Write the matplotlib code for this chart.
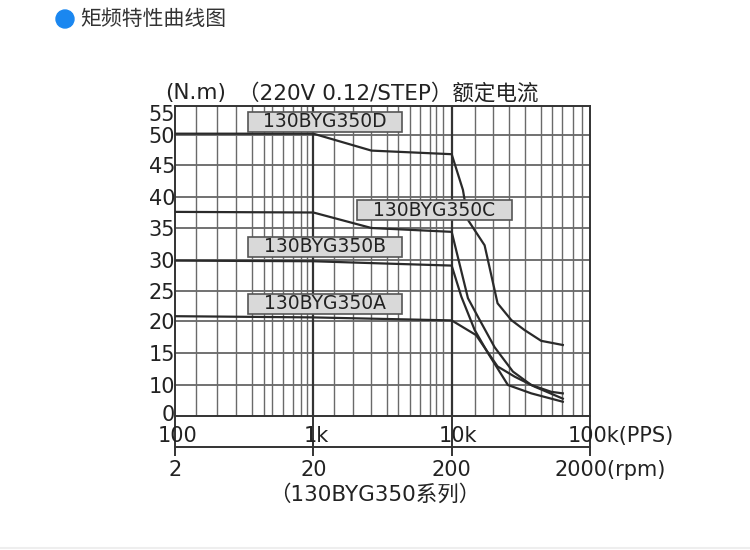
import numpy as np
import matplotlib.pyplot as plt
from matplotlib.patches import Rectangle, Ellipse
from matplotlib.lines import Line2D
from matplotlib.ticker import NullLocator
from matplotlib.transforms import ScaledTranslation

plt.rcParams['font.family'] = ['DejaVu Sans', 'Noto Sans CJK SC']

# ---- data ----
# torque (N.m) vs pulse rate (PPS)
pps_d = [100, 1000, 2630, 10000, 12065, 13115, 17300, 21470, 27000, 33550, 44380, 63600]
nm_d = [50.3, 50.3, 47.4, 46.8, 41.1, 36.3, 32.3, 22.95, 20.15, 18.6, 16.9, 16.25]

pps_c = [100, 1000, 2630, 10000, 13115, 15490, 20440, 27710, 37630, 52480, 63600]
nm_c = [37.6, 37.5, 35.0, 34.4, 23.8, 20.7, 15.9, 12.1, 10.0, 7.8, 7.3]

pps_b = [100, 1000, 2630, 10000, 11750, 14660, 18290, 25500, 37630, 63600]
nm_b = [29.9, 29.8, 29.5, 29.1, 24.05, 18.6, 15.0, 10.0, 7.3, 4.6]

pps_a = [100, 1000, 10000, 15000, 18800, 21470, 28560, 39850, 63600]
nm_a = [20.8, 20.6, 20.1, 17.8, 14.7, 12.9, 11.3, 9.45, 5.6]

series_names = ['130BYG350D', '130BYG350C', '130BYG350B', '130BYG350A']

y_ticks = [0, 10, 15, 20, 25, 30, 35, 40, 45, 50, 55]
h_grid = [10, 15, 20, 25, 30, 35, 40, 45, 50]
x_grid = [142, 201, 277, 361, 442, 505, 606, 717, 819, 905, 1000,
          1419, 1946, 2600, 3394, 4122, 5006, 5918, 6975, 7714, 8707, 10000,
          14700, 20000, 26000, 34000, 44300, 53000, 62500, 75000, 87500]
pps_ticks = [100, 1000, 10000, 100000]
pps_labels = ['100', '1k', '10k', '100k(PPS)']
rpm_ticks = [2, 20, 200, 2000]
rpm_labels = ['2', '20', '200', '2000(rpm)']

# the printed y axis is not evenly spaced: value -> height (px above the 0 line)
y_vals = [-50, 0, 10, 15, 20, 25, 30, 35, 40, 45, 50, 55, 56.2, 200]
y_pos = [-155, 0, 31, 63, 95, 125, 156, 188, 219, 251, 281, 303, 310, 1144]


def fwd(v):
    return np.interp(v, y_vals, y_pos)


def inv(p):
    return np.interp(p, y_pos, y_vals)


W, H = 750, 550
fig = plt.figure(figsize=(7.5, 5.5), dpi=100)
ax = fig.add_axes([175 / W, 134 / H, 415 / W, 310 / H])
ax.set_xscale('log')
ax.set_yscale('function', functions=(fwd, inv))
ax.set_xlim(100, 100000)
ax.set_ylim(0, 56.2)

# grid
for v in h_grid:
    ax.axhline(v, color='#4a4a4a', lw=1.1, zorder=1)
for v in x_grid:
    major = v in (1000, 10000)
    ax.axvline(v, color='#333333' if major else '#6a6a6a',
               lw=1.6 if major else 1.0, zorder=1)

for s in ax.spines.values():
    s.set_color('#333333')
    s.set_linewidth(1.4)

# curves
line_kw = dict(color='#2a2a2a', lw=1.6, zorder=3)
ax.plot(pps_d, nm_d, **line_kw)
ax.plot(pps_c, nm_c, **line_kw)
ax.plot(pps_b, nm_b, **line_kw)
ax.plot(pps_a, nm_a, **line_kw)

# y ticks
ax.set_yticks(y_ticks)
ax.set_yticklabels([str(v) for v in y_ticks])
ax.tick_params(axis='y', length=0, pad=0, labelsize=15, labelcolor='#222222')
# the "0" sits a little above the bottom line in the original
lab0 = ax.get_yticklabels()[0]
lab0.set_transform(lab0.get_transform() + ScaledTranslation(0, 3 / 100, fig.dpi_scale_trans))

# x ticks (labels drawn by hand, the tick passes through them)
ax.set_xticks(pps_ticks)
ax.set_xticklabels([])
ax.xaxis.set_minor_locator(NullLocator())
ax.tick_params(axis='x', direction='out', length=17, width=1.4, color='#333333')
offsets = [(3, 'center'), (3, 'center'), (6, 'center'), (-22, 'left')]
for v, lab, (dx, ha) in zip(pps_ticks, pps_labels, offsets):
    ax.annotate(lab, xy=(v, 0), xycoords=('data', 'axes fraction'),
                xytext=(dx, -20), textcoords='offset pixels',
                ha=ha, va='center', fontsize=15, color='#222222')

# rpm axis below
sec = ax.secondary_xaxis(-0.1, functions=(lambda x: x / 50.0, lambda r: r * 50.0))
sec.set_xticks(rpm_ticks)
sec.set_xticklabels([])
sec.xaxis.set_minor_locator(NullLocator())
sec.spines['bottom'].set_color('#333333')
sec.spines['bottom'].set_linewidth(1.4)
sec.tick_params(axis='x', direction='inout', length=13, width=1.4, color='#333333')
offsets = [(0, 'center'), (0, 'center'), (0, 'center'), (-35, 'left')]
for r, lab, (dx, ha) in zip(rpm_ticks, rpm_labels, offsets):
    ax.annotate(lab, xy=(r * 50, -0.1), xycoords=('data', 'axes fraction'),
                xytext=(dx, -23), textcoords='offset pixels',
                ha=ha, va='center', fontsize=15, color='#222222')

# series label boxes (axes fraction)
boxes = [(0.176, 0.916), (0.439, 0.632), (0.176, 0.513), (0.176, 0.329)]
for name, (bx, by) in zip(series_names, boxes):
    ax.add_patch(Rectangle((bx, by), 0.372, 0.065, transform=ax.transAxes,
                           facecolor='#d9d9d9', edgecolor='#555555', lw=1.2, zorder=4))
    ax.text(bx + 0.186, by + 0.0325, name, transform=ax.transAxes, ha='center',
            va='center', fontsize=13.5, color='#222222', zorder=5)

# header texts
fig.text(165 / W, 1 - 93 / H, '(N.m)', ha='left', va='center', fontsize=15.5, color='#222222')
fig.text(238 / W, 1 - 93 / H, '（220V 0.12/STEP）额定电流', ha='left', va='center',
         fontsize=15.5, color='#222222')
fig.text(375 / W, 1 - 494 / H, '（130BYG350系列）', ha='center', va='center',
         fontsize=15.5, color='#222222')

# page title
fig.add_artist(Ellipse((65 / W, 1 - 19 / H), 18 / W, 18 / H,
                       transform=fig.transFigure, color='#1a87f0'))
fig.text(80 / W, 1 - 19 / H, '矩频特性曲线图', ha='left', va='center', fontsize=15,
         color='#333333', family=['Noto Sans CJK SC', 'DejaVu Sans'])

fig.add_artist(Line2D([0, 1], [2 / H, 2 / H], color='#eeeeee', lw=1.5))

plt.savefig('out.png', dpi=100)
